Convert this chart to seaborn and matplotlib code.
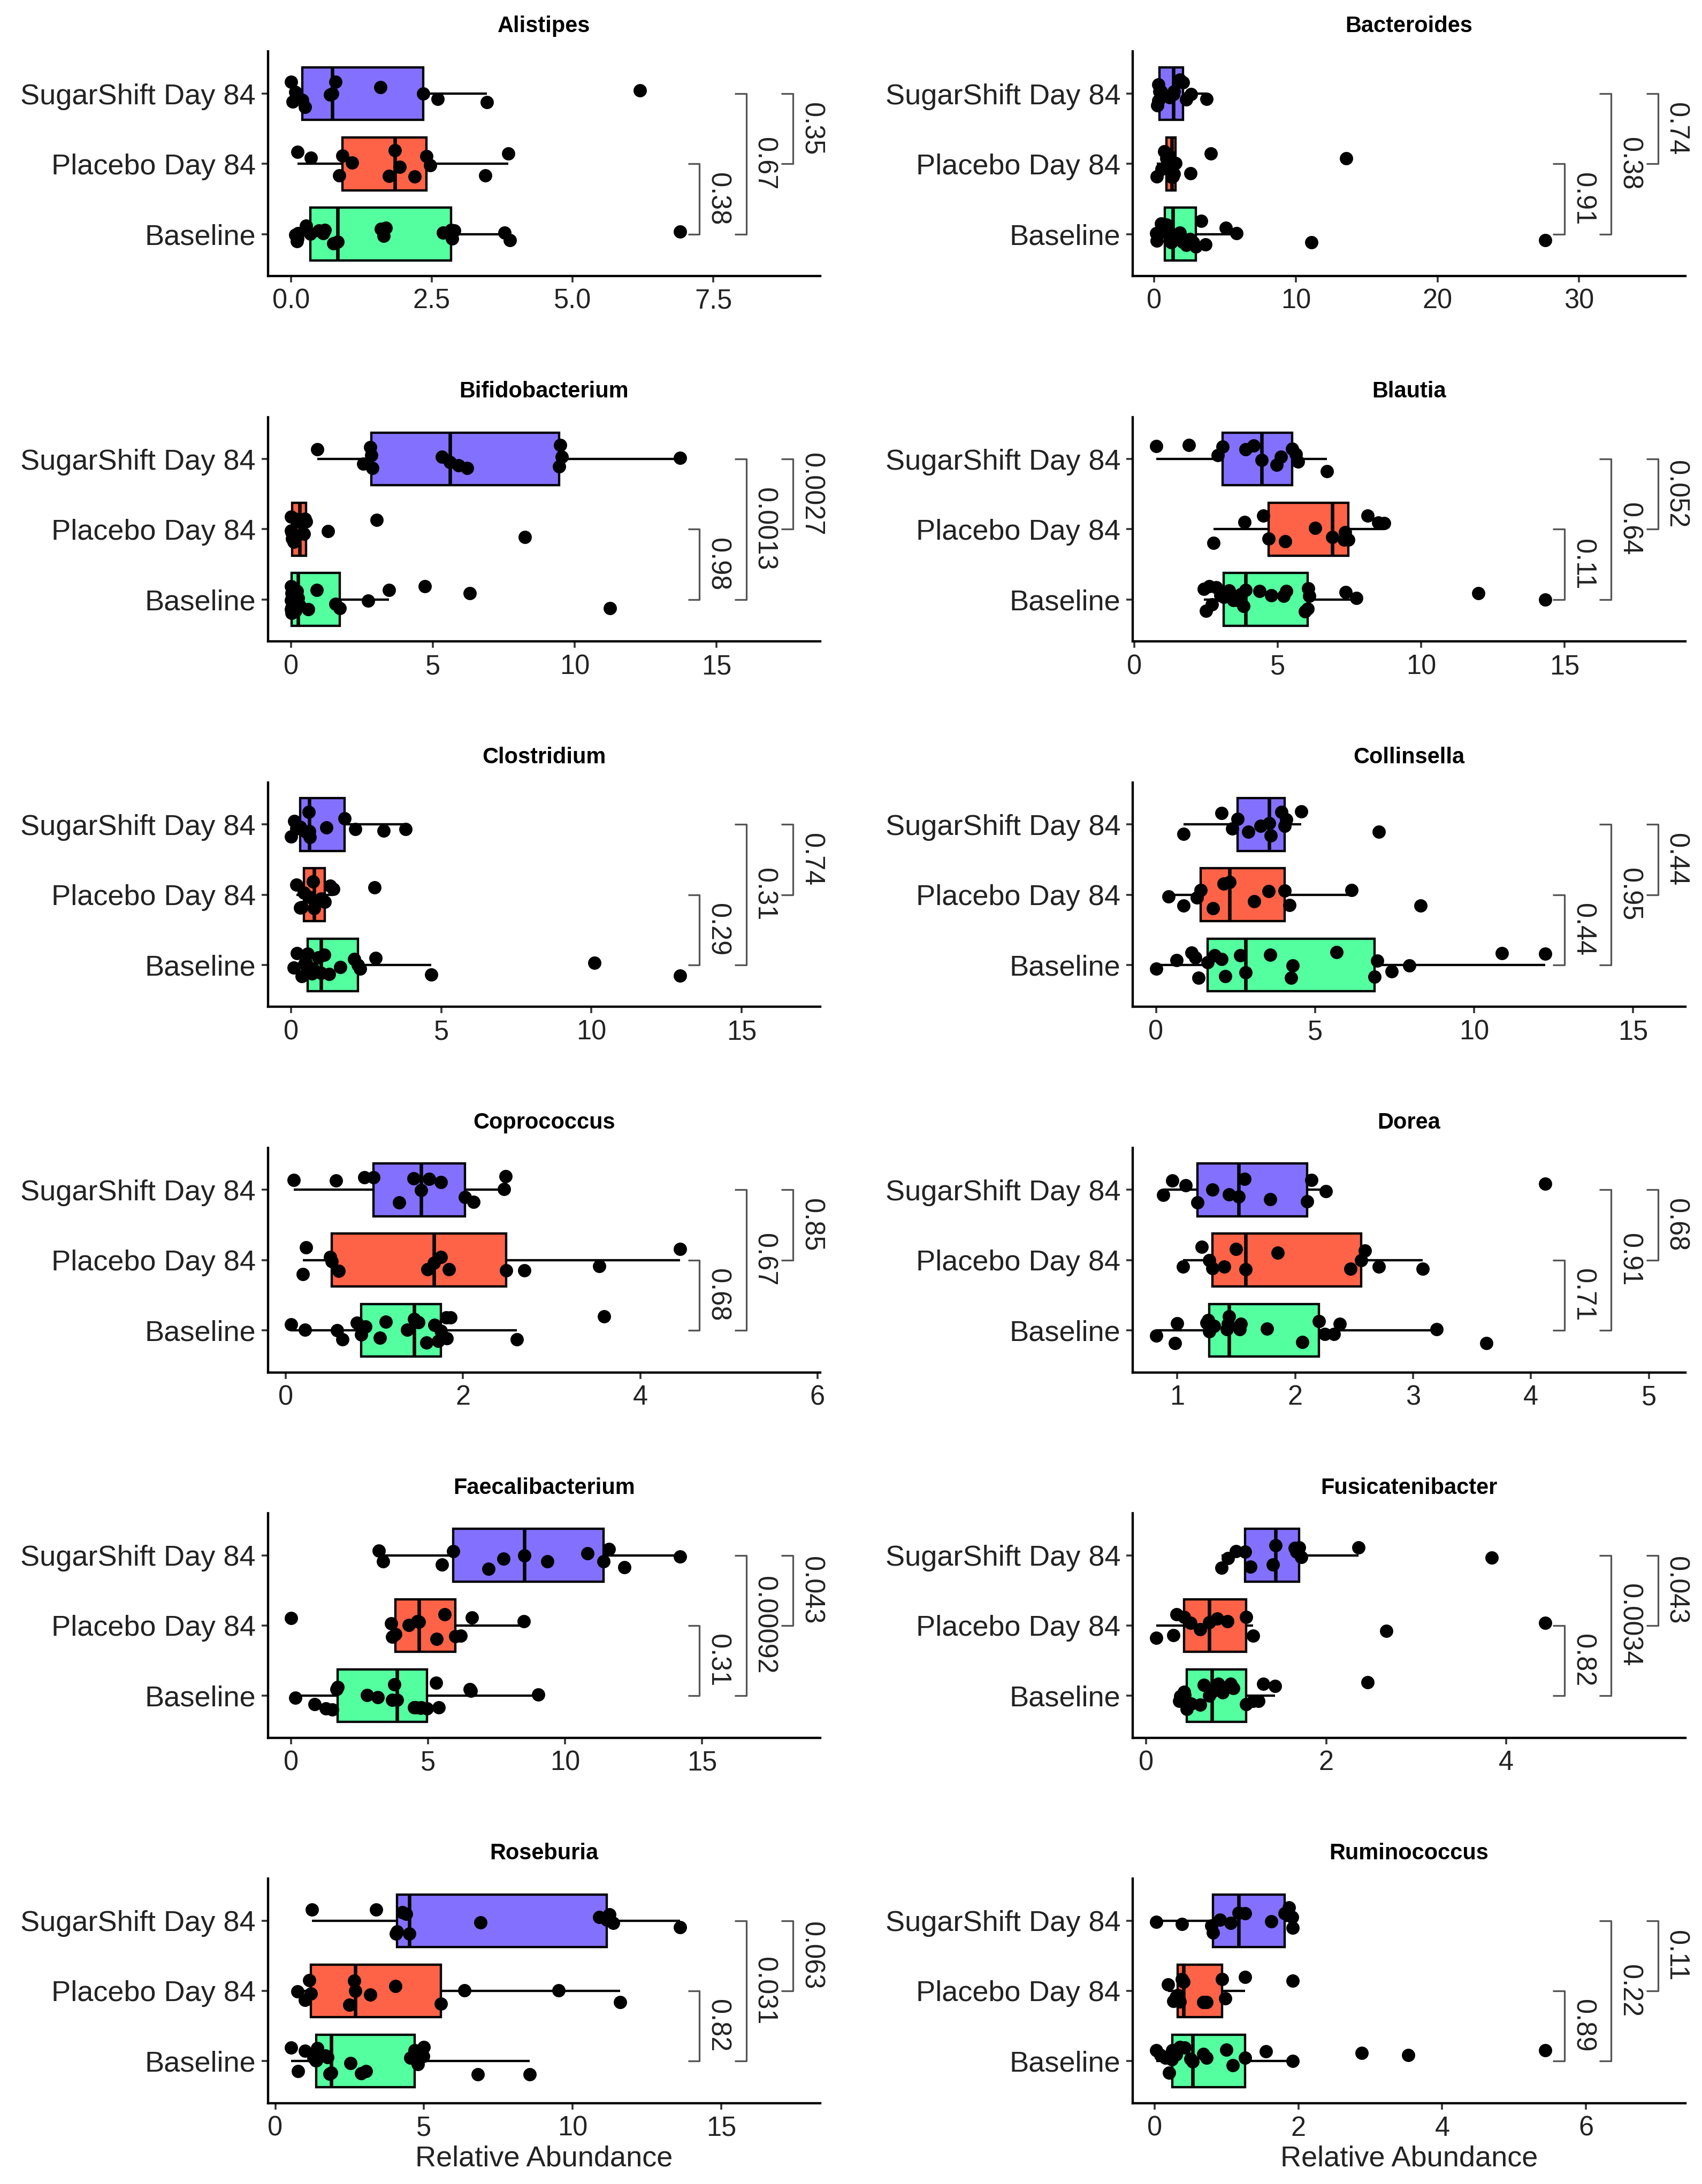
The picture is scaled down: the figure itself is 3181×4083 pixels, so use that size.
import numpy as np
import pandas as pd
import matplotlib.pyplot as plt
import seaborn as sns
from matplotlib.ticker import MultipleLocator

# --- Datos (abundancia relativa por grupo) ---
GRUPOS = ["SugarShift Day 84", "Placebo Day 84", "Baseline"]
COLORES = {"SugarShift Day 84": "#8470FF", "Placebo Day 84": "#FF6347", "Baseline": "#54FF9F"}

GENEROS = ["Alistipes", "Bacteroides", "Bifidobacterium", "Blautia", "Clostridium", "Collinsella",
           "Coprococcus", "Dorea", "Faecalibacterium", "Fusicatenibacter", "Roseburia", "Ruminococcus"]

ALISTIPES_SS = [0.0, 0.03, 0.08, 0.2, 0.25, 0.69, 0.73, 0.79, 1.59, 2.35, 2.6, 3.48, 6.2]
ALISTIPES_PL = [0.11, 0.35, 0.86, 0.91, 1.08, 1.74, 1.84, 1.93, 2.2, 2.4, 2.47, 3.45, 3.86]
ALISTIPES_BL = [0.08, 0.1, 0.11, 0.12, 0.27, 0.34, 0.49, 0.57, 0.6, 0.75, 0.83, 1.6, 1.64, 1.68, 2.7,
                2.84, 2.86, 2.9, 3.79, 3.89, 6.91]

BACTEROIDES_SS = [0.2, 0.27, 0.3, 0.38, 0.46, 1.1, 1.34, 1.4, 1.8, 2.03, 2.25, 2.6, 3.7]
BACTEROIDES_PL = [0.19, 0.5, 0.7, 0.84, 0.95, 1.1, 1.22, 1.3, 1.4, 1.49, 2.56, 4.01, 13.56]
BACTEROIDES_BL = [0.12, 0.19, 0.27, 0.46, 0.6, 0.7, 0.76, 0.85, 0.95, 1.05, 1.15, 1.2, 1.3, 1.8, 2.0,
                  2.25, 2.5, 2.75, 2.94, 3.3, 3.6, 5.04, 5.8, 11.08, 27.6]

BIFIDO_SS = [0.93, 2.54, 2.8, 2.83, 2.87, 5.33, 5.6, 5.9, 6.2, 9.46, 9.5, 9.55, 13.72]
BIFIDO_PL = [0.0, 0.0, 0.02, 0.03, 0.1, 0.15, 0.31, 0.45, 0.5, 0.52, 1.3, 3.02, 8.24]
BIFIDO_BL = [0.0, 0.0, 0.0, 0.01, 0.01, 0.02, 0.05, 0.1, 0.15, 0.2, 0.25, 0.3, 0.6, 0.9, 1.57,
             1.71, 2.71, 3.45, 4.71, 6.3, 11.24]

BLAUTIA_SS = [0.75, 1.9, 2.9, 3.08, 3.87, 4.15, 4.43, 4.96, 5.1, 5.49, 5.62, 5.7, 6.72]
BLAUTIA_PL = [2.75, 3.83, 4.49, 4.68, 5.25, 6.3, 6.9, 7.3, 7.35, 7.45, 8.13, 8.5, 8.7]
BLAUTIA_BL = [2.42, 2.5, 2.6, 2.7, 2.85, 3.0, 3.11, 3.3, 3.45, 3.6, 3.7, 3.8, 3.87, 4.36, 4.77,
              5.2, 5.3, 5.95, 6.04, 6.05, 6.1, 7.36, 7.74, 12.0, 14.32]

CLOSTRIDIUM_SS = [0.0, 0.1, 0.18, 0.31, 0.5, 0.58, 0.6, 0.62, 1.18, 1.78, 2.13, 3.09, 3.82]
CLOSTRIDIUM_PL = [0.18, 0.3, 0.36, 0.42, 0.6, 0.73, 0.76, 0.82, 1.0, 1.13, 1.3, 1.4, 2.78]
CLOSTRIDIUM_BL = [0.09, 0.2, 0.35, 0.45, 0.5, 0.55, 0.6, 0.7, 0.73, 0.9, 1.0, 1.1, 1.27, 1.64, 2.1,
                  2.22, 2.3, 2.82, 4.67, 10.09, 12.95]

COLLINSELLA_SS = [0.87, 2.06, 2.4, 2.57, 2.9, 3.29, 3.56, 3.6, 3.94, 4.05, 4.1, 4.57, 7.0]
COLLINSELLA_PL = [0.39, 0.87, 1.28, 1.41, 1.79, 2.13, 2.32, 3.08, 3.54, 4.05, 4.19, 6.15, 8.31]
COLLINSELLA_BL = [0.0, 0.65, 1.11, 1.24, 1.33, 1.62, 1.84, 2.06, 2.18, 2.64, 2.81, 3.59, 4.25, 4.3,
                  5.67, 6.87, 6.95, 7.41, 7.97, 10.87, 12.23]

COPROCOCCUS_SS = [0.09, 0.57, 0.89, 0.99, 1.28, 1.44, 1.53, 1.62, 1.75, 2.02, 2.12, 2.46, 2.48]
COPROCOCCUS_PL = [0.19, 0.23, 0.5, 0.52, 0.6, 1.6, 1.67, 1.75, 1.84, 2.49, 2.69, 3.54, 4.45]
COPROCOCCUS_BL = [0.06, 0.22, 0.58, 0.64, 0.8, 0.85, 0.9, 1.06, 1.13, 1.37, 1.45, 1.5, 1.59, 1.68,
                  1.72, 1.75, 1.81, 1.82, 1.86, 2.61, 3.59]

DOREA_SS = [0.88, 0.96, 1.07, 1.17, 1.3, 1.44, 1.52, 1.57, 1.79, 2.1, 2.14, 2.26, 4.12]
DOREA_PL = [1.05, 1.21, 1.27, 1.3, 1.4, 1.5, 1.58, 1.85, 2.47, 2.56, 2.59, 2.71, 3.08]
DOREA_BL = [0.82, 0.98, 1.0, 1.25, 1.26, 1.27, 1.28, 1.31, 1.42, 1.43, 1.44, 1.53, 1.54, 1.76, 2.06,
            2.2, 2.25, 2.33, 2.38, 3.2, 3.62]

FAECALI_SS = [3.2, 3.36, 5.5, 5.92, 7.2, 7.76, 8.52, 9.36, 10.82, 11.4, 11.6, 12.16, 14.2]
FAECALI_PL = [0.0, 3.66, 3.7, 3.8, 4.3, 4.6, 4.66, 5.32, 5.6, 6.0, 6.2, 6.6, 8.5]
FAECALI_BL = [0.16, 0.86, 1.26, 1.5, 1.66, 1.7, 2.78, 3.16, 3.7, 3.76, 3.86, 4.5, 4.56, 4.72, 4.75,
              4.96, 5.3, 5.4, 6.52, 6.56, 9.02]

FUSI_SS = [0.84, 0.91, 1.0, 1.1, 1.16, 1.41, 1.44, 1.65, 1.67, 1.7, 1.72, 2.36, 3.84]
FUSI_PL = [0.11, 0.3, 0.34, 0.42, 0.49, 0.6, 0.7, 0.79, 0.9, 1.11, 1.19, 2.67, 4.43]
FUSI_BL = [0.37, 0.38, 0.4, 0.42, 0.43, 0.45, 0.5, 0.6, 0.64, 0.7, 0.73, 0.8, 0.85, 0.94, 0.97,
           1.11, 1.19, 1.25, 1.3, 1.43, 2.46]

ROSEBURIA_SS = [1.23, 3.39, 4.05, 4.09, 4.27, 4.4, 4.5, 6.89, 10.9, 11.14, 11.23, 11.36, 13.61]
ROSEBURIA_PL = [0.74, 1.0, 1.14, 1.2, 2.5, 2.65, 2.69, 3.2, 4.03, 5.56, 6.35, 9.52, 11.6]
ROSEBURIA_BL = [0.53, 0.77, 0.99, 1.29, 1.35, 1.38, 1.42, 1.69, 1.75, 1.82, 1.88, 2.52, 2.89, 3.04,
                4.55, 4.68, 4.79, 4.97, 5.0, 6.81, 8.55]

RUMINO_SS = [0.02, 0.38, 0.79, 0.81, 0.91, 1.06, 1.17, 1.26, 1.62, 1.81, 1.87, 1.91, 1.92]
RUMINO_PL = [0.19, 0.26, 0.3, 0.32, 0.35, 0.38, 0.4, 0.68, 0.72, 0.94, 0.98, 1.26, 1.92]
RUMINO_BL = [0.02, 0.08, 0.15, 0.2, 0.24, 0.25, 0.3, 0.35, 0.42, 0.5, 0.53, 0.68, 0.72, 1.0, 1.09,
             1.26, 1.55, 1.92, 2.88, 3.53, 5.43]

VALORES_SS = [ALISTIPES_SS, BACTEROIDES_SS, BIFIDO_SS, BLAUTIA_SS, CLOSTRIDIUM_SS, COLLINSELLA_SS,
              COPROCOCCUS_SS, DOREA_SS, FAECALI_SS, FUSI_SS, ROSEBURIA_SS, RUMINO_SS]
VALORES_PL = [ALISTIPES_PL, BACTEROIDES_PL, BIFIDO_PL, BLAUTIA_PL, CLOSTRIDIUM_PL, COLLINSELLA_PL,
              COPROCOCCUS_PL, DOREA_PL, FAECALI_PL, FUSI_PL, ROSEBURIA_PL, RUMINO_PL]
VALORES_BL = [ALISTIPES_BL, BACTEROIDES_BL, BIFIDO_BL, BLAUTIA_BL, CLOSTRIDIUM_BL, COLLINSELLA_BL,
              COPROCOCCUS_BL, DOREA_BL, FAECALI_BL, FUSI_BL, ROSEBURIA_BL, RUMINO_BL]

# p-valores: Baseline vs Placebo, Baseline vs SugarShift, Placebo vs SugarShift
P_BASE_PLACEBO = ["0.38", "0.91", "0.98", "0.11", "0.29", "0.44", "0.68", "0.71", "0.31", "0.82", "0.82", "0.89"]
P_BASE_SUGAR = ["0.67", "0.38", "0.0013", "0.64", "0.31", "0.95", "0.67", "0.91", "0.00092", "0.0034", "0.031", "0.22"]
P_PLACEBO_SUGAR = ["0.35", "0.74", "0.0027", "0.052", "0.74", "0.44", "0.85", "0.68", "0.043", "0.043", "0.063", "0.11"]

PASO_TICKS = [2.5, 10, 5, 5, 5, 5, 2, 1, 5, 2, 5, 2]

# --- Estilo ---
sns.set_style("ticks")
plt.rcParams['font.family'] = ['Liberation Sans', 'DejaVu Sans']
np.random.seed(7)

ANCHO, ALTO = 1220.0, 1566.0  # rejilla de referencia en píxeles


def dibujar_panel(ax, i, fila_inferior):
    """Dibuja un panel: cajas horizontales, puntos con jitter y corchetes de p-valor."""
    ss, pl, bl = VALORES_SS[i], VALORES_PL[i], VALORES_BL[i]
    df = pd.DataFrame({
        'grupo': [GRUPOS[0]] * len(ss) + [GRUPOS[1]] * len(pl) + [GRUPOS[2]] * len(bl),
        'valor': ss + pl + bl,
    })

    sns.boxplot(data=df, x='valor', y='grupo', hue='grupo', order=GRUPOS, hue_order=GRUPOS,
                palette=COLORES, saturation=1, width=0.75, showfliers=False, showcaps=False,
                linecolor='black', linewidth=1.2, medianprops={'linewidth': 1.8},
                legend=False, ax=ax)
    sns.stripplot(data=df, x='valor', y='grupo', order=GRUPOS, color='black', size=6.9,
                  jitter=0.2, linewidth=0, ax=ax, zorder=3)

    # Corchetes de comparación (posición derivada del rango de los datos)
    vmin, vmax = df['valor'].min(), df['valor'].max()
    rango = vmax - vmin
    pos_a = vmax + 0.05 * rango
    paso = 0.12 * rango
    punta = 0.03 * rango
    comparaciones = [(pos_a, 1, 2, P_BASE_PLACEBO[i]),
                     (pos_a + paso, 0, 2, P_BASE_SUGAR[i]),
                     (pos_a + 2 * paso, 0, 1, P_PLACEBO_SUGAR[i])]
    for xpos, y1, y2, etiqueta in comparaciones:
        ax.plot([xpos - punta, xpos, xpos, xpos - punta], [y1, y1, y2, y2],
                color='#555555', lw=0.9, solid_capstyle='butt', zorder=2)
        ax.annotate(etiqueta, xy=(xpos, (y1 + y2) / 2), xytext=(2.5, 0), textcoords='offset points',
                    rotation=-90, ha='left', va='center', fontsize=14, color='#222222')

    ancho_eje = 1.42 * rango
    izquierda = vmin - 0.042 * ancho_eje
    ax.set_xlim(izquierda, izquierda + ancho_eje)
    ax.set_ylim(2.6, -0.6)
    ax.xaxis.set_major_locator(MultipleLocator(PASO_TICKS[i]))

    ax.set_title(GENEROS[i], fontsize=11.5, fontweight='bold', pad=10, color='black')
    ax.set_ylabel('')
    ax.set_xlabel('Relative Abundance' if fila_inferior else '', fontsize=15, color='#222222', labelpad=2)
    ax.tick_params(axis='y', labelsize=15, length=3.3, width=1.0, colors='#333333', labelcolor='#222222', pad=3)
    ax.tick_params(axis='x', labelsize=14, length=3.3, width=1.0, colors='#333333', labelcolor='#222222', pad=3)
    for lado in ['left', 'bottom']:
        ax.spines[lado].set_linewidth(1.2)
        ax.spines[lado].set_color('black')
    sns.despine(ax=ax)


if __name__ == "__main__":
    fig = plt.figure(figsize=(3181 / 260, 4083 / 260), dpi=260)
    for i in range(len(GENEROS)):
        fila, col = divmod(i, 2)
        x0 = (192 if col == 0 else 812) / ANCHO
        y0 = 1 - (198 + 262 * fila) / ALTO
        ax = fig.add_axes([x0, y0, 396 / ANCHO, 161 / ALTO])
        dibujar_panel(ax, i, fila == 5)
    fig.savefig('out.png', dpi=260)
    plt.close(fig)
